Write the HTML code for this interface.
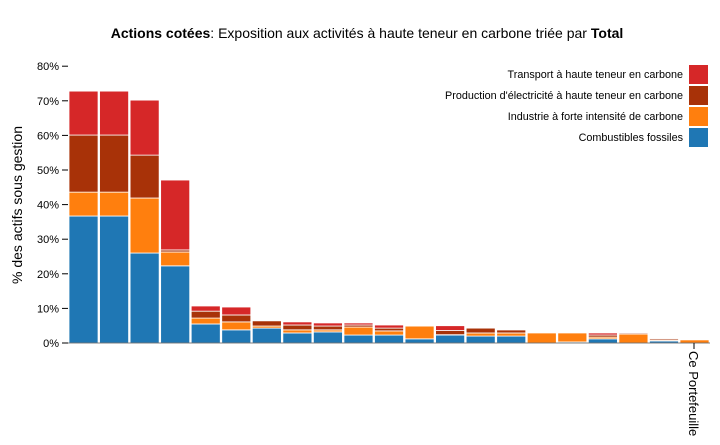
<!DOCTYPE html>
<html><head><meta charset="utf-8"><style>
body{margin:0;background:#fff;font-family:"Liberation Sans",sans-serif}
</style></head><body>
<svg width="720" height="440" xmlns="http://www.w3.org/2000/svg" font-family="Liberation Sans, sans-serif">
<text x="367" y="38" text-anchor="middle" font-size="14"><tspan font-weight="bold">Actions cotées</tspan>: Exposition aux activités à haute teneur en carbone triée par <tspan font-weight="bold">Total</tspan></text>
<text transform="translate(22,205) rotate(-90)" text-anchor="middle" font-size="14">% des actifs sous gestion</text>
<g id="yaxis"></g>
<g id="bars"></g>
<g id="legend"></g>
<line x1="694" y1="343" x2="694" y2="349" stroke="#000"/>
<text transform="translate(689,351) rotate(90)" font-size="13">Ce Portefeuille</text>
</svg>
<script>
const categories=["c1","c2","c3","c4","c5","c6","c7","c8","c9","c10","c11","c12","c13","c14","c15","c16","c17","c18","c19","c20","Ce Portefeuille"];
const seriesNames=["Combustibles fossiles","Industrie à forte intensité de carbone","Production d'électricité à haute teneur en carbone","Transport à haute teneur en carbone"];
const fossil=[36.7,36.7,26,22.3,5.5,3.8,4.3,2.9,3.2,2.3,2.3,1.2,2.3,2.0,2.0,0,0.3,1.2,0,0.6,0];
const industry=[6.9,6.9,15.9,4.0,1.7,2.3,0.6,0.9,0.6,2.3,1.2,3.7,0.1,0.9,0.9,2.9,2.6,0.5,2.6,0.3,0.9];
const power=[16.5,16.5,12.4,0.6,2.0,2.0,1.5,1.4,1.1,0.6,0.8,0.1,1.2,1.4,0.9,0,0,0.6,0.3,0.4,0];
const transport=[12.7,12.7,15.9,20.2,1.5,2.3,0,0.9,0.9,0.6,0.9,0,1.4,0,0.2,0,0,0.6,0,0.1,0];
const yTicks=[0,10,20,30,40,50,60,70,80];
const colors=["#1f77b4","#ff7f0e","#a83208","#d62728"];
const NS="http://www.w3.org/2000/svg";
const y0=343,pxPer=3.46,x0=68,step=30.55;
const Y=v=>y0-v*pxPer;
const ya=document.getElementById("yaxis");
yTicks.forEach(t=>{
 const l=document.createElementNS(NS,"line");
 l.setAttribute("x1",62);l.setAttribute("x2",68);l.setAttribute("y1",Y(t));l.setAttribute("y2",Y(t));l.setAttribute("stroke","#000");
 
 
 ya.appendChild(l);
 const tx=document.createElementNS(NS,"text");
 tx.setAttribute("x",59);tx.setAttribute("y",Y(t)+4);tx.setAttribute("text-anchor","end");tx.setAttribute("font-size","11");
 tx.textContent=t+"%";
 
 
 ya.appendChild(tx);
});
const bg=document.getElementById("bars");
const series=[fossil,industry,power,transport];
categories.forEach((c,i)=>{
 let acc=0;
 series.forEach((s,k)=>{
  const v=s[i]; if(v<=0) return;
  const r=document.createElementNS(NS,"rect");
  r.setAttribute("x",x0+i*step+1);r.setAttribute("width",step-1.5);
  r.setAttribute("y",Y(acc+v));r.setAttribute("height",v*pxPer);
  r.setAttribute("fill",colors[k]);r.setAttribute("stroke","#fff");r.setAttribute("stroke-width","0.8");
  
  
  bg.appendChild(r);
  acc+=v;
 });
});
const bl=document.createElementNS(NS,"line");
bl.setAttribute("x1",68);bl.setAttribute("x2",710);bl.setAttribute("y1",y0);bl.setAttribute("y2",y0);bl.setAttribute("stroke","#000");bl.setAttribute("stroke-width","0.6");


bg.appendChild(bl);
const lg=document.getElementById("legend");
for(let k=3;k>=0;k--){
 const row=3-k, yy=65+row*21;
 const r=document.createElementNS(NS,"rect");
 r.setAttribute("x",689);r.setAttribute("y",yy);r.setAttribute("width",19);r.setAttribute("height",19);r.setAttribute("fill",colors[k]);
 
 
 lg.appendChild(r);
 const t=document.createElementNS(NS,"text");
 t.setAttribute("x",683);t.setAttribute("y",yy+13);t.setAttribute("text-anchor","end");t.setAttribute("font-size","10.8");
 t.textContent=seriesNames[k];
 
 
 lg.appendChild(t);
}
</script>
</body></html>
